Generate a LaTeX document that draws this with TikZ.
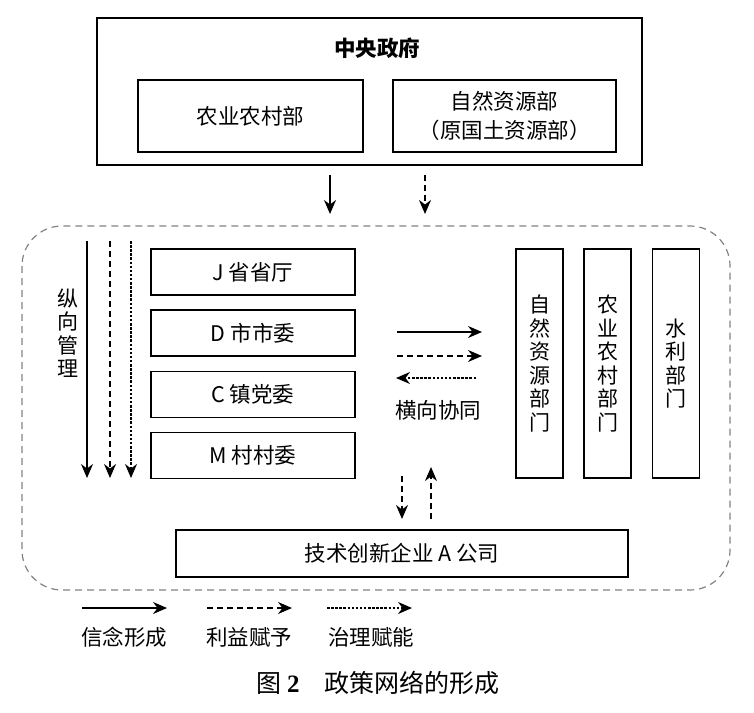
\documentclass[tikz,border=0pt]{standalone}
\usepackage{fontspec}
\setmainfont{Noto Sans CJK SC}
\newfontfamily\numfont{Liberation Serif}
\usetikzlibrary{arrows.meta}

\begin{document}
\begin{tikzpicture}[x=1pt, y=-1pt, >={Stealth[length=14pt,width=12pt]}, font=\fontsize{21.5}{29}\selectfont]
  \definecolor{framegray}{RGB}{130,130,130}
  \tikzset{
    box/.style={draw, line width=1.5pt, inner sep=0pt},
    tallbox/.style={box, minimum width=47pt, minimum height=229pt},
    levelbox/.style={box, minimum width=204pt, minimum height=46pt},
    belief/.style={->, line width=1.5pt},
    interest/.style={->, line width=1.5pt, dash pattern=on 6pt off 4pt},
    govern/.style={->, line width=1.5pt, dash pattern=on 2.5pt off 1.6pt},
    vtext/.style={align=center, inner sep=0pt, font=\fontsize{21}{23.5}\selectfont},
  }
  \useasboundingbox (0,0) rectangle (754,712);

  % 中央政府
  \node[box, minimum width=545pt, minimum height=147pt] (center) at (369.5,91.5) {};
  \node[font=\fontsize{21.5}{25}\selectfont\bfseries] (centertitle) at (377,48) {中央政府};
  \node[box, minimum width=225pt, minimum height=72pt] (agri) at (250.5,116) {农业农村部};
  \node[box, minimum width=223pt, minimum height=72pt, align=center] (natres) at (504.5,116) {自然资源部\\（原国土资源部）};

  % 向下的箭头
  \coordinate (downA) at (330,175);
  \coordinate (downAend) at (330,214);
  \coordinate (downB) at (425,175);
  \coordinate (downBend) at (425,214);
  \draw[belief] (downA) -- (downAend);
  \draw[interest] (downB) -- (downBend);

  % 政策网络（虚线圆角框）
  \draw[framegray, line width=1.2pt, dash pattern=on 7pt off 5pt, rounded corners=40pt]
    (22,226) rectangle (730,590);

  % 纵向管理
  \node[vtext] (vertlabel) at (68,333) {纵\\向\\管\\理};
  \foreach \name/\xx/\kind in {solid/87/belief, dash/110/interest, dot/131/govern}{
    \coordinate (v\name top) at (\xx,241);
    \coordinate (v\name bot) at (\xx,478);
    \draw[\kind] (v\name top) -- (v\name bot);
  }

  % 各级党政机构
  \node[levelbox] (prov) at (253,272) {J 省省厅};
  \node[levelbox] (city) at (253,333) {D 市市委};
  \node[levelbox] (town) at (253,394.5) {C 镇党委};
  \node[levelbox] (vill) at (253,455.5) {M 村村委};

  % 横向部门
  \node[tallbox] (dnat) at (539.5,363.5) {};
  \node[vtext] at (dnat) {自\\然\\资\\源\\部\\门};
  \node[tallbox] (dagri) at (607.5,363.5) {};
  \node[vtext] at (dagri) {农\\业\\农\\村\\部\\门};
  \node[tallbox] (dwater) at (676,363.5) {};
  \node[vtext] at (dwater) {水\\利\\部\\门};

  % 横向协同
  \coordinate (hl1) at (397,332);
  \coordinate (hr1) at (482,332);
  \coordinate (hl2) at (397,356);
  \coordinate (hr2) at (482,356);
  \coordinate (hl3) at (396,378);
  \coordinate (hr3) at (476,378);
  \draw[belief] (hl1) -- (hr1);
  \draw[interest] (hl2) -- (hr2);
  \draw[govern] (hr3) -- (hl3);
  \node (horzlabel) at (438,410) {横向协同};

  % 企业
  \node[box, minimum width=452pt, minimum height=47pt] (firm) at (402,553.5) {技术创新企业 A 公司};
  \coordinate (firmdown) at (402,476);
  \coordinate (firmdownend) at (402,519);
  \coordinate (firmup) at (431,519);
  \coordinate (firmupend) at (431,467);
  \draw[interest] (firmdown) -- (firmdownend);
  \draw[interest] (firmup) -- (firmupend);

  % 图例
  \coordinate (lgA) at (82,608);
  \coordinate (lgAend) at (167,608);
  \coordinate (lgB) at (207,608);
  \coordinate (lgBend) at (292,608);
  \coordinate (lgC) at (327,608);
  \coordinate (lgCend) at (412,608);
  \draw[belief] (lgA) -- (lgAend);
  \draw[interest] (lgB) -- (lgBend);
  \draw[govern] (lgC) -- (lgCend);
  \node (lgAtext) at (124,637) {信念形成};
  \node (lgBtext) at (249,637) {利益赋予};
  \node (lgCtext) at (371,637) {治理赋能};

  % 图题
  \node[font=\fontsize{25}{30}\selectfont] (caption) at (378,683) {图 {\numfont\bfseries 2}\quad 政策网络的形成};
\end{tikzpicture}
\end{document}
